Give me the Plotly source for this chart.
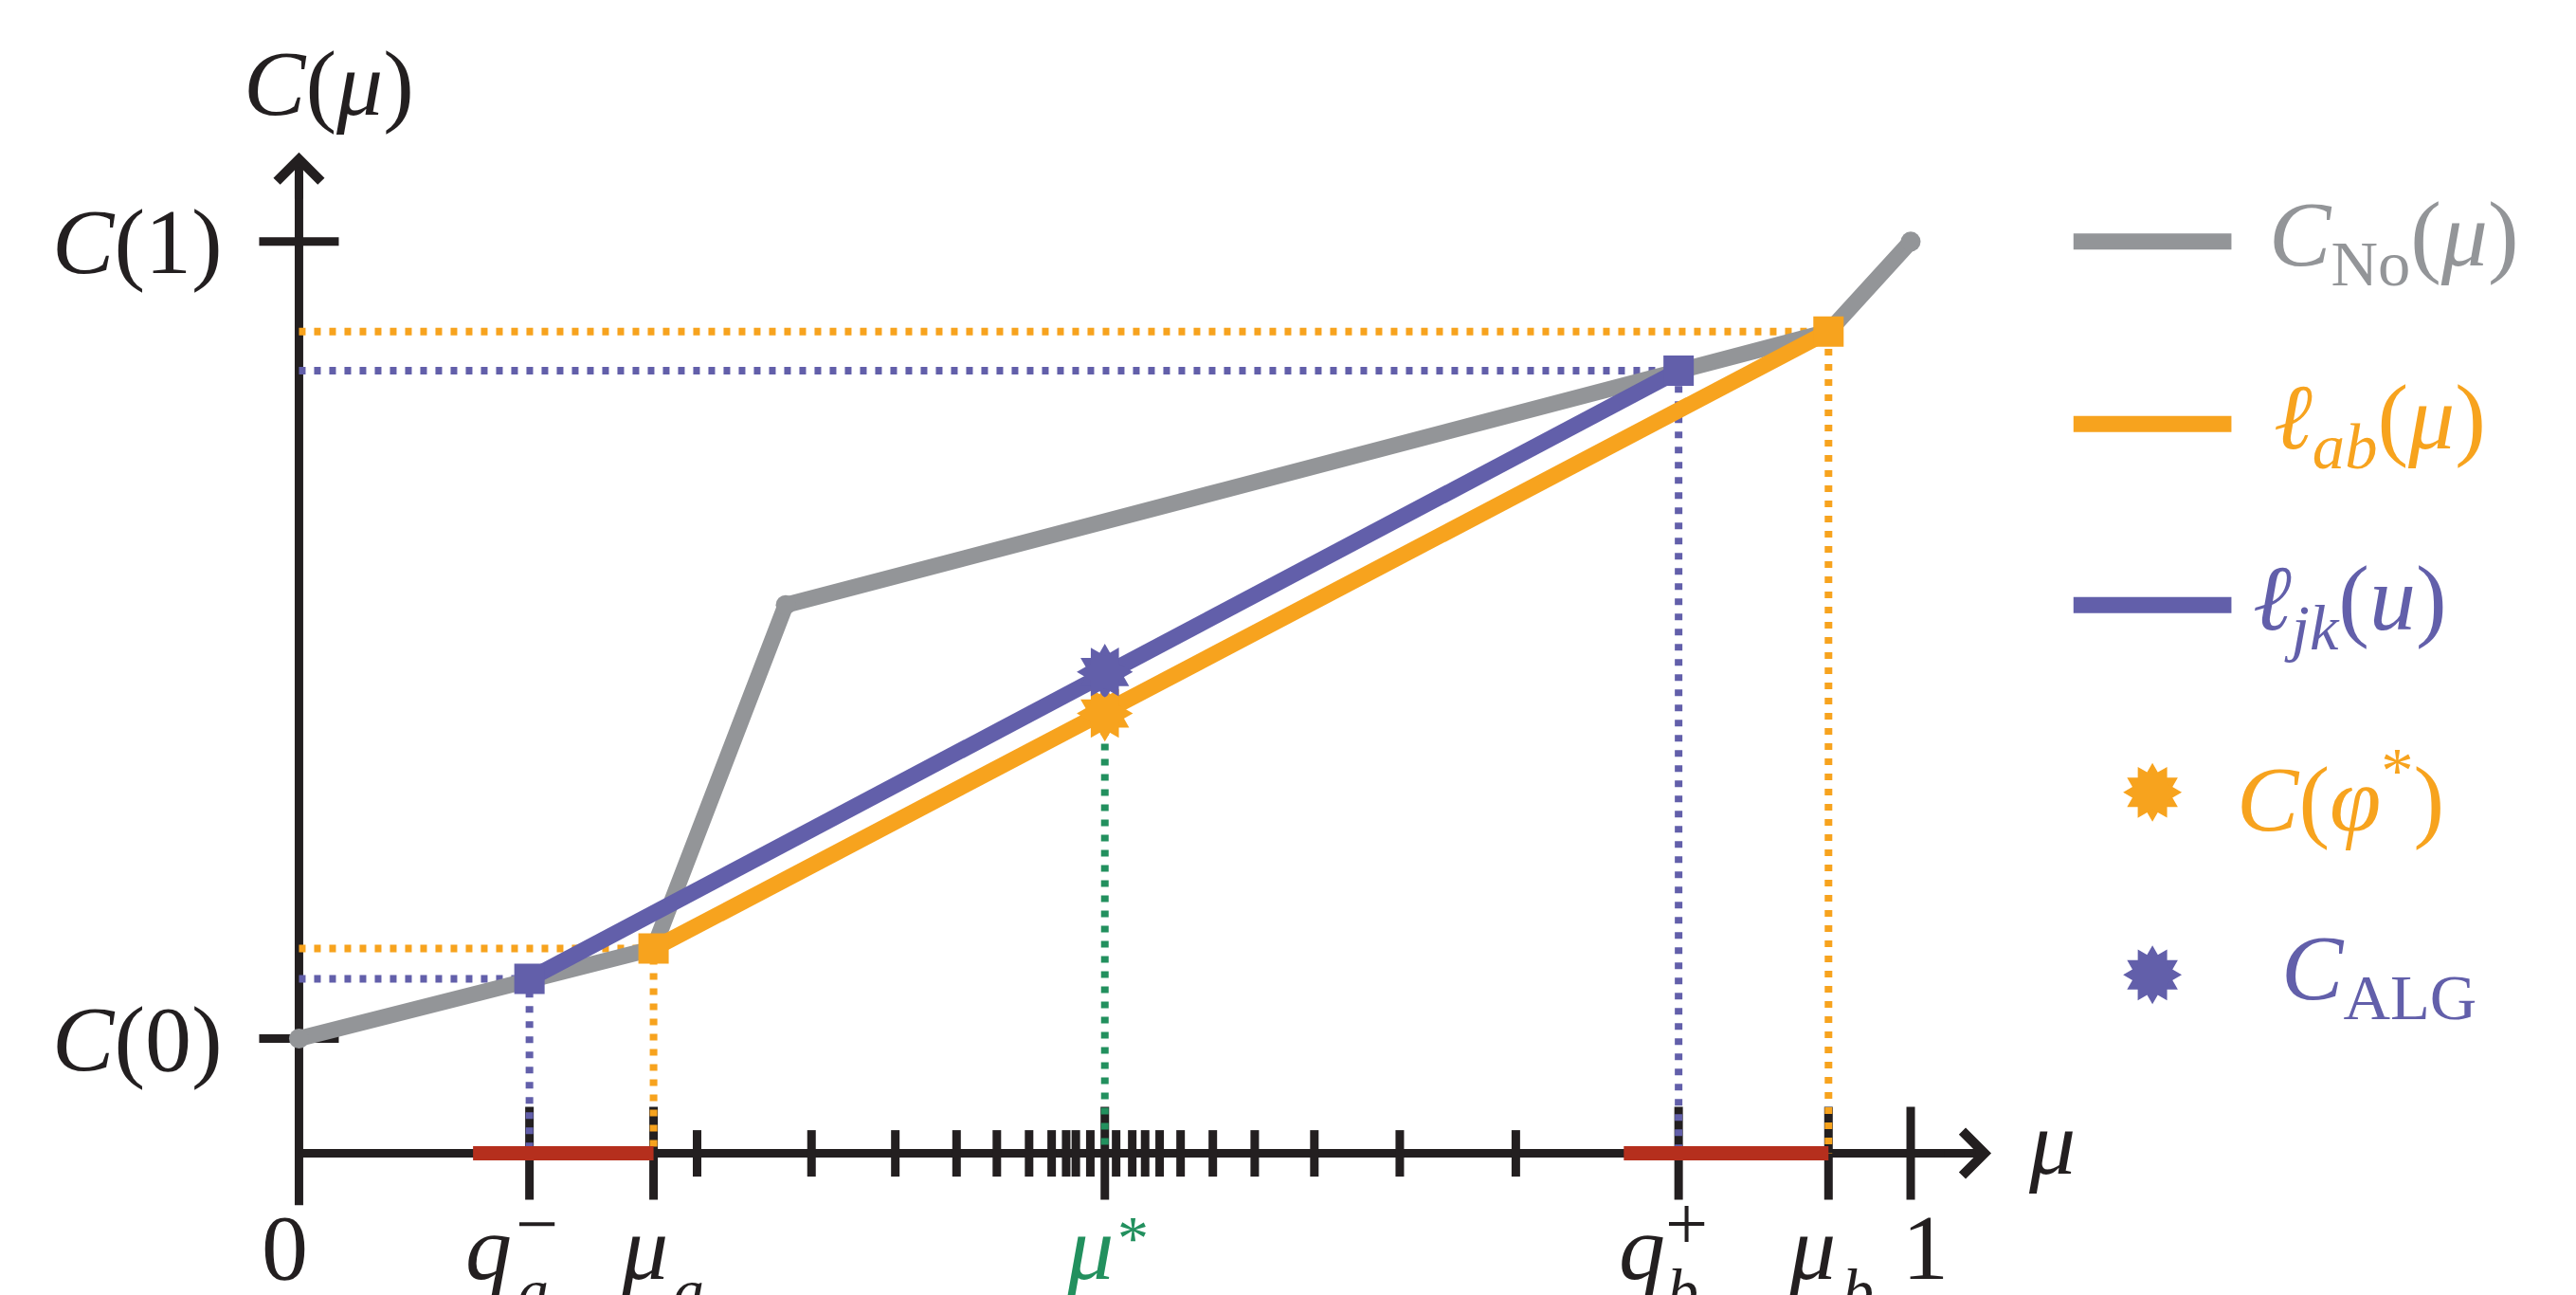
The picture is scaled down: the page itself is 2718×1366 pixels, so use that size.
import plotly.graph_objects as go

# ---------------- data ----------------
# marked abscissae on the mu-axis
q_a_minus = 0.143
mu_a = 0.220
mu_star = 0.500
q_b_plus = 0.856
mu_b = 0.949
mu_one = 1.0

# evaluated grid of mu values (small ticks)
grid_mu = [0.247, 0.318, 0.370, 0.408, 0.433, 0.453, 0.467, 0.476, 0.482, 0.491,
           0.507, 0.517, 0.525, 0.534, 0.547, 0.567, 0.593, 0.630, 0.683, 0.755]

# C_No(mu): piecewise-linear curve
cno_mu = [0.0, 0.100, 0.220, 0.302, 0.949, 1.0]
cno_val = [0.0, 0.052, 0.113, 0.544, 0.887, 1.0]
cno_dot_idx = [0, 3, 5]

# chord l_ab(mu) between mu_a and mu_b
lab_mu = [mu_a, mu_b]
lab_val = [0.113, 0.887]

# chord l_jk(u) between q_a^- and q_b^+
ljk_mu = [q_a_minus, q_b_plus]
ljk_val = [0.075, 0.838]

# values at mu*
c_phi_star = 0.408
c_alg = 0.460

# red intervals on the mu-axis
red_intervals = [(0.108, 0.220), (0.822, 0.949)]

# y-axis ticks
y_ticks = [0.0, 1.0]
y_tick_labels = ["<i>C</i>(0)", "<i>C</i>(1)"]

# legend entries
legend_line_names = ["<i>C</i><sub>No</sub>(<i>μ</i>)",
                     "<i>ℓ</i><sub><i>ab</i></sub>(<i>μ</i>)",
                     "<i>ℓ</i><sub><i>jk</i></sub>(<i>u</i>)"]
legend_star_names = ["<i>C</i>(<i>φ</i><sup>*</sup>)", "<i>C</i><sub>ALG</sub>"]

# ---------------- style ----------------
BLACK = "#231F20"
GREY = "#939598"
ORANGE = "#F7A31E"
PURPLE = "#625FAA"
GREEN = "#22905E"
RED = "#B52F1D"
FONT = "Liberation Serif"
FS = 98
FS_SMALL = 66
FS_SUP = 80

AXIS_Y = -0.144
Y_AXIS_BOTTOM = -0.209
Y_AXIS_TOP = 1.112
X_AXIS_RIGHT = 1.05
LW = 17
AW = 9
DOT_W = 8
DOT = "7px,9px"

fig = go.Figure()


def add_line(xs, ys, color, width, dash=None):
    fig.add_trace(go.Scatter(x=xs, y=ys, mode="lines",
                             line=dict(color=color, width=width, dash=dash),
                             hoverinfo="skip", showlegend=False))


def add_markers(xs, ys, symbol, size, color, angle=0, lw=0, lcolor=None):
    fig.add_trace(go.Scatter(x=xs, y=ys, mode="markers",
                             marker=dict(symbol=symbol, size=size, color=color, angle=angle,
                                         line=dict(width=lw, color=lcolor or color)),
                             hoverinfo="skip", showlegend=False, cliponaxis=False))


# axes lines
add_line([0, 0], [Y_AXIS_BOTTOM, Y_AXIS_TOP - 0.03], BLACK, AW)
add_line([0, X_AXIS_RIGHT - 0.015], [AXIS_Y, AXIS_Y], BLACK, AW)

# ticks
long_ticks = [q_a_minus, mu_a, mu_star, q_b_plus, mu_b, mu_one]
add_markers(long_ticks, [AXIS_Y] * len(long_ticks), "line-ns", 70, BLACK, lw=AW, lcolor=BLACK)
add_markers(grid_mu, [AXIS_Y] * len(grid_mu), "line-ns", 35, BLACK, lw=AW, lcolor=BLACK)
add_markers([0] * len(y_ticks), y_ticks, "line-ew", 60, BLACK, lw=AW, lcolor=BLACK)

# dotted guides
add_line([0, lab_mu[1], lab_mu[1]], [lab_val[1], lab_val[1], AXIS_Y], ORANGE, DOT_W, DOT)
add_line([0, ljk_mu[1], ljk_mu[1]], [ljk_val[1], ljk_val[1], AXIS_Y], PURPLE, DOT_W, DOT)
add_line([0, lab_mu[0], lab_mu[0]], [lab_val[0], lab_val[0], AXIS_Y], ORANGE, DOT_W, DOT)
add_line([0, ljk_mu[0], ljk_mu[0]], [ljk_val[0], ljk_val[0], AXIS_Y], PURPLE, DOT_W, DOT)
add_line([mu_star, mu_star], [c_phi_star, AXIS_Y], GREEN, DOT_W, DOT)

# red intervals
for a, b in red_intervals:
    add_line([a, b], [AXIS_Y, AXIS_Y], RED, LW - 2)

# curves
add_line(cno_mu, cno_val, GREY, LW)
add_markers([cno_mu[i] for i in cno_dot_idx], [cno_val[i] for i in cno_dot_idx], "circle", 21, GREY)
add_line(lab_mu, lab_val, ORANGE, LW)
add_line(ljk_mu, ljk_val, PURPLE, LW)
add_markers(lab_mu, lab_val, "square", 32, ORANGE)
add_markers(ljk_mu, ljk_val, "square", 32, PURPLE)

# stars (12-pointed: two hexagrams)
for ang in (0, 30):
    add_markers([mu_star], [c_phi_star], "hexagram", 45, ORANGE, angle=ang)
    add_markers([mu_star], [c_alg], "hexagram", 45, PURPLE, angle=ang)

# legend
LEG_X0, LEG_X1, LEG_STAR_X = 1.101, 1.199, 1.150
leg_line_y = [1.0, 0.771, 0.544]
leg_line_col = [GREY, ORANGE, PURPLE]
leg_line_tx = [1.221, 1.224, 1.211]
leg_star_y = [0.309, 0.080]
leg_star_col = [ORANGE, PURPLE]
leg_star_tx = [1.201, 1.229]
for yv, col in zip(leg_line_y, leg_line_col):
    add_line([LEG_X0, LEG_X1], [yv, yv], col, LW)
for yv, col in zip(leg_star_y, leg_star_col):
    for ang in (0, 30):
        add_markers([LEG_STAR_X], [yv], "hexagram", 47, col, angle=ang)

ann = []


def txt(x, y, text, color=BLACK, size=FS, xanchor="center", yanchor="middle", xshift=0):
    ann.append(dict(x=x, y=y, xref="x", yref="y", text=text, showarrow=False,
                    font=dict(family=FONT, size=size, color=color),
                    xanchor=xanchor, yanchor=yanchor, xshift=xshift))


for name, yv, col, tx in zip(legend_line_names, leg_line_y, leg_line_col, leg_line_tx):
    txt(tx, yv, name, col, xanchor="left")
for name, yv, col, tx in zip(legend_star_names, leg_star_y, leg_star_col, leg_star_tx):
    txt(tx, yv, name, col, xanchor="left")

# y labels
for yv, lab in zip(y_ticks, y_tick_labels):
    txt(-0.046, yv, lab, xanchor="right")
txt(0.0185, 1.198, "<i>C</i>(<i>μ</i>)")
txt(1.0876, -0.130, "<i>μ</i>")

# x labels
Y_MAIN, Y_SUP, Y_AST, Y_SUB = -0.262, -0.233, -0.250, -0.316
txt(0, Y_MAIN, "0", xshift=-15)
txt(q_a_minus, Y_MAIN, "<i>q</i>", xshift=-43)
txt(q_a_minus, Y_SUP, "−", size=FS_SUP, xshift=8)
txt(q_a_minus, Y_SUB, "<i>a</i>", size=FS_SMALL, xshift=4)
txt(mu_a, Y_MAIN, "<i>μ</i>", xshift=-10)
txt(mu_a, Y_SUB, "<i>a</i>", size=FS_SMALL, xshift=37)
txt(mu_star, Y_MAIN, "<i>μ</i>", GREEN, xshift=-16)
txt(mu_star, Y_AST, "*", GREEN, size=FS_SMALL, xshift=30)
txt(q_b_plus, Y_MAIN, "<i>q</i>", xshift=-39)
txt(q_b_plus, Y_SUP, "+", size=FS_SUP, xshift=8)
txt(q_b_plus, Y_SUB, "<i>b</i>", size=FS_SMALL, xshift=4)
txt(mu_b, Y_MAIN, "<i>μ</i>", xshift=-17)
txt(mu_b, Y_SUB, "<i>b</i>", size=FS_SMALL, xshift=31)
txt(mu_one, Y_MAIN, "1", xshift=15)

# arrow heads
ann.append(dict(x=X_AXIS_RIGHT, y=AXIS_Y, ax=X_AXIS_RIGHT - 0.03, ay=AXIS_Y, xref="x", yref="y",
                axref="x", ayref="y", text="", showarrow=True, arrowhead=4, arrowsize=1,
                arrowwidth=AW, arrowcolor=BLACK, standoff=0))
ann.append(dict(x=0, y=Y_AXIS_TOP, ax=0, ay=Y_AXIS_TOP - 0.06, xref="x", yref="y",
                axref="x", ayref="y", text="", showarrow=True, arrowhead=4, arrowsize=1,
                arrowwidth=AW, arrowcolor=BLACK, standoff=0))

# ranges chosen so that the page (with its 8px body margin) matches the reference
fig.update_layout(
    width=2718, height=1366,
    margin=dict(l=0, r=0, t=0, b=0),
    paper_bgcolor="white", plot_bgcolor="white",
    xaxis=dict(range=[-0.1808, 1.4175], visible=False, fixedrange=True),
    yaxis=dict(range=[-0.3312, 1.2936], visible=False, fixedrange=True),
    showlegend=False, hovermode=False,
    annotations=ann,
)

fig.write_html("out.html")
